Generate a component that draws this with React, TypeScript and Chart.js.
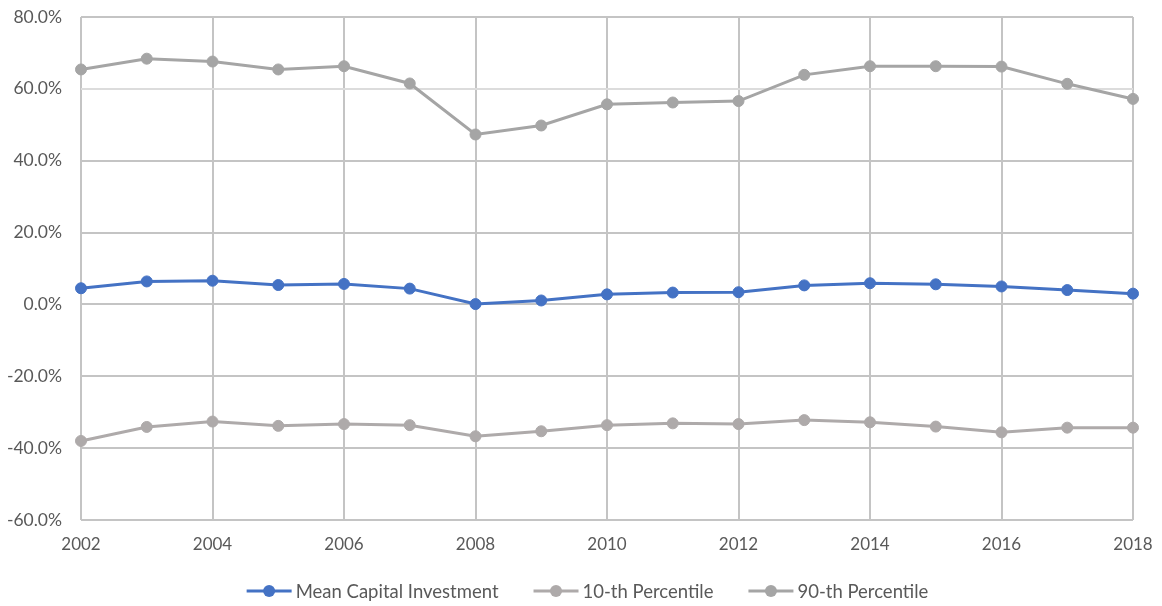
import React, { useEffect, useRef } from "react";
import { Chart, registerables } from "chart.js";

Chart.register(...registerables);

const years = [
  "2002", "2003", "2004", "2005", "2006", "2007", "2008", "2009", "2010",
  "2011", "2012", "2013", "2014", "2015", "2016", "2017", "2018",
];

const meanInvestment = [
  4.5, 6.4, 6.6, 5.4, 5.7, 4.4, 0.1, 1.1, 2.8, 3.3, 3.4, 5.3, 5.9, 5.6, 5.0, 4.0, 3.0,
];

const pct10 = [
  -38.0, -34.1, -32.6, -33.8, -33.3, -33.6, -36.7, -35.3, -33.6, -33.1, -33.3,
  -32.2, -32.8, -34.0, -35.6, -34.3, -34.3,
];

const pct90 = [
  65.4, 68.4, 67.6, 65.4, 66.3, 61.5, 47.3, 49.8, 55.7, 56.2, 56.6, 63.9, 66.3,
  66.3, 66.2, 61.4, 57.2,
];

const yTicks = [-60, -40, -20, 0, 20, 40, 60, 80];

const seriesNames = ["Mean Capital Investment", "10-th Percentile", "90-th Percentile"];
const seriesColors = ["#4472C4", "#AEAAAA", "#A5A5A5"];

const FONT = "Lato, Carlito, Calibri, 'Noto Sans', sans-serif";
const TEXT = "#595959";
const GRID = "#c4c4c4";

// Legend drawn as line-with-marker swatches, centred under the plot
const lineLegend = {
  id: "lineLegend",
  afterDraw(chart: any) {
    const ctx = chart.ctx as CanvasRenderingContext2D;
    const swatchW = 45;
    const gapText = 4;
    const gapItem = 35;
    const cy = 591;
    ctx.save();
    ctx.font = `18.5px ${FONT}`;
    const widths = chart.data.datasets.map(
      (d: any) => swatchW + gapText + ctx.measureText(d.label).width
    );
    const total = widths.reduce((a: number, b: number) => a + b, 0) + gapItem * (widths.length - 1);
    let x = 587.5 - total / 2;
    chart.data.datasets.forEach((d: any, i: number) => {
      const color = d.borderColor;
      ctx.strokeStyle = color;
      ctx.lineWidth = 3;
      ctx.beginPath();
      ctx.moveTo(x, cy);
      ctx.lineTo(x + swatchW, cy);
      ctx.stroke();
      ctx.fillStyle = color;
      ctx.beginPath();
      ctx.arc(x + swatchW / 2, cy, 6, 0, Math.PI * 2);
      ctx.fill();
      ctx.fillStyle = TEXT;
      ctx.textAlign = "left";
      ctx.textBaseline = "middle";
      ctx.fillText(d.label, x + swatchW + gapText, cy + 1);
      x += widths[i] + gapItem;
    });
    ctx.restore();
  },
};

export default function App() {
  const ref = useRef<HTMLCanvasElement | null>(null);

  useEffect(() => {
    if (!ref.current) return;
    const values = [meanInvestment, pct10, pct90];

    const chart = new Chart(ref.current, {
      type: "line",
      data: {
        labels: years,
        datasets: values.map((v, i) => ({
          label: seriesNames[i],
          data: v,
          borderColor: seriesColors[i],
          backgroundColor: seriesColors[i],
          borderWidth: 3,
          pointRadius: 5.5,
          pointBorderWidth: 1,
          pointBackgroundColor: seriesColors[i],
          pointBorderColor: seriesColors[i],
          tension: 0,
          fill: false,
        })),
      },
      options: {
        animation: false,
        responsive: false,
        maintainAspectRatio: false,
        layout: { padding: { top: 17, right: 29, bottom: 35, left: 0 } },
        plugins: {
          tooltip: { enabled: false },
          legend: { display: false },
        },
        scales: {
          x: {
            type: "category",
            offset: false,
            grid: {
              drawTicks: false,
              lineWidth: 2,
              color: (ctx: any) => (ctx.index % 2 === 0 ? GRID : "rgba(0,0,0,0)"),
            },
            border: { display: false },
            ticks: {
              autoSkip: false,
              maxRotation: 0,
              padding: 14,
              color: TEXT,
              font: { family: FONT, size: 17 },
              callback: (_v: any, i: number) => (i % 2 === 0 ? years[i] : ""),
            },
            afterFit: (s: any) => {
              s.height = 51;
              s.paddingLeft = 0;
              s.paddingRight = 0;
            },
          },
          y: {
            min: -60,
            max: 80,
            afterBuildTicks: (s: any) => {
              s.ticks = yTicks.map((v) => ({ value: v }));
            },
            grid: {
              drawTicks: false,
              lineWidth: 2,
              color: (ctx: any) => (ctx.tick && ctx.tick.value === 60 ? "#dcdcdc" : GRID),
            },
            border: { display: false },
            ticks: {
              padding: 19,
              color: TEXT,
              font: { family: FONT, size: 17.5 },
              callback: (v: any) => Number(v).toFixed(1) + "%",
            },
            afterFit: (s: any) => {
              s.width = 81;
              s.paddingTop = 0;
              s.paddingBottom = 0;
            },
          },
        },
      },
      plugins: [lineLegend],
    });

    return () => chart.destroy();
  }, []);

  return (
    <div style={{ position: "fixed", left: 0, top: 0, width: 1162, height: 606, background: "#fff" }}>
      <canvas ref={ref} width={1162} height={606} style={{ width: 1162, height: 606 }} />
    </div>
  );
}
